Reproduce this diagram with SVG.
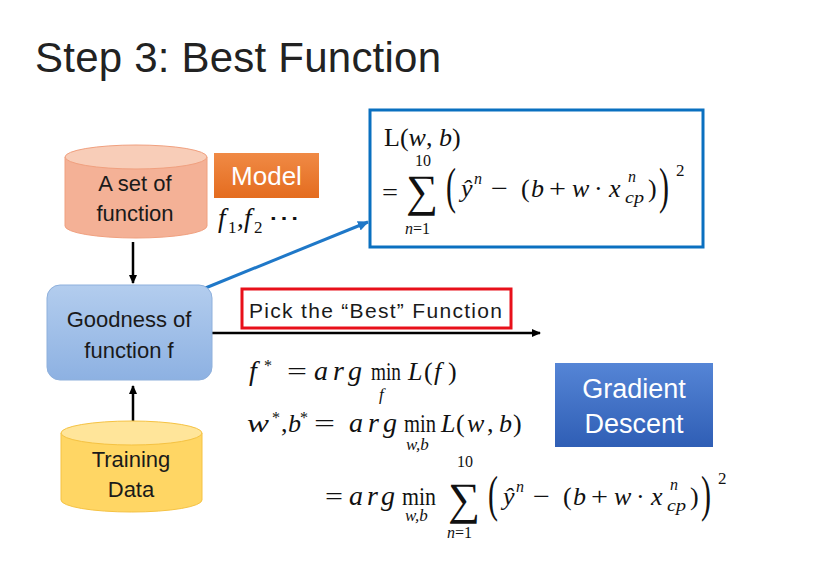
<svg xmlns="http://www.w3.org/2000/svg" width="825" height="564" viewBox="0 0 825 564">
<defs>
<style>
.t{font-family:"Liberation Sans","Open Sans",Arial,sans-serif;fill:#1a1a1a}
.w{fill:#fff}
.m{font-family:"Liberation Serif","DejaVu Serif",serif;fill:#111;font-size:26px}
.i{font-style:italic}
.s{font-size:16px}
.s17{font-size:17px}
.f27{font-size:27px}
.f28{font-size:28px}
.big{font-size:45px}
.bp{font-size:50px}
</style>
<linearGradient id="gBlue" x1="0" y1="0" x2="0" y2="1"><stop offset="0" stop-color="#b3cdee"/><stop offset="1" stop-color="#8db1e2"/></linearGradient>
<linearGradient id="gGD" x1="0" y1="0" x2="0" y2="1"><stop offset="0" stop-color="#5585d6"/><stop offset="1" stop-color="#2f5eb5"/></linearGradient>
<linearGradient id="gOr" x1="0" y1="0" x2="0" y2="1"><stop offset="0" stop-color="#f08a45"/><stop offset="1" stop-color="#e46c1f"/></linearGradient>
<marker id="ab" markerWidth="10" markerHeight="10" refX="8" refY="5" orient="auto" markerUnits="userSpaceOnUse"><path d="M0,1 L9,5 L0,9 Z" fill="#000"/></marker>
<marker id="abl" markerWidth="12" markerHeight="12" refX="10" refY="6" orient="auto" markerUnits="userSpaceOnUse"><path d="M0,1 L11,6 L0,11 Z" fill="#1f78c8"/></marker>
</defs>
<rect width="825" height="564" fill="#fff"/>
<text x="35" y="72" class="t" font-size="42" textLength="406" style="fill:#222">Step 3: Best Function</text>

<g id="connectors">
<line x1="133" y1="242" x2="133" y2="283" stroke="#000" stroke-width="2.5" marker-end="url(#ab)"/>
<line x1="133" y1="428" x2="133" y2="386" stroke="#000" stroke-width="2.5" marker-end="url(#ab)"/>
<line x1="203" y1="289" x2="368" y2="222" stroke="#1f78c8" stroke-width="3" marker-end="url(#abl)"/>
<line x1="212" y1="333" x2="540" y2="333" stroke="#000" stroke-width="2.5" marker-end="url(#ab)"/>
</g>

<g id="setfunc">
<path d="M65,157 L65,226 A71,12 0 0 0 207,226 L207,157 Z" fill="#f4b196" stroke="#f0a07f" stroke-width="1"/>
<ellipse cx="136" cy="157" rx="71" ry="12" fill="#f8cdb8" stroke="#f0a07f" stroke-width="1"/>
<text x="135" y="191" class="t" font-size="22" text-anchor="middle">A set of</text>
<text x="135" y="221" class="t" font-size="22" text-anchor="middle">function</text>
</g>

<g id="model">
<rect x="214" y="153" width="105" height="45" fill="url(#gOr)"/>
<text x="266.5" y="185" class="t w" font-size="26" text-anchor="middle">Model</text>
<text x="218" y="227" class="m i f27">f</text>
<text x="228" y="233" class="m s17">1</text>
<text x="237" y="227" class="m f27">,</text>
<text x="244" y="227" class="m i f27">f</text>
<text x="254" y="233" class="m s17">2</text>
<text x="268" y="227" class="m f27" textLength="32" lengthAdjust="spacingAndGlyphs">⋯</text>
</g>

<g id="goodness">
<rect x="47" y="285" width="165" height="95" rx="13" fill="url(#gBlue)" stroke="#8eb0dc" stroke-width="1"/>
<text x="129" y="327" class="t" font-size="22" text-anchor="middle">Goodness of</text>
<text x="129" y="358" class="t" font-size="22" text-anchor="middle">function f</text>
</g>

<g id="training">
<path d="M61,433 L61,500 A70.5,12 0 0 0 202,500 L202,433 Z" fill="#ffd664" stroke="#f5c242" stroke-width="1"/>
<ellipse cx="131.5" cy="433" rx="70.5" ry="12" fill="#ffe59a" stroke="#f5c242" stroke-width="1"/>
<text x="131" y="467" class="t" font-size="22" text-anchor="middle">Training</text>
<text x="131" y="497" class="t" font-size="22" text-anchor="middle">Data</text>
</g>

<g id="lossbox">
<rect x="370" y="110" width="333" height="137" fill="#fff" stroke="#0a70c0" stroke-width="3"/>
<text x="384" y="146" class="m">L(<tspan class="i">w</tspan>, <tspan class="i">b</tspan>)</text>
<text x="382" y="201" class="m" textLength="16" lengthAdjust="spacingAndGlyphs">=</text>
<text x="415" y="166" class="m s">10</text>
<text x="405" y="234" class="m s"><tspan class="i">n</tspan>=1</text>
<g transform="translate(-42,-308)">
<text x="448" y="514" class="m big">∑</text>
<text class="m bp" transform="translate(488,511) scale(0.6,1)">(</text>
<text x="503" y="505" class="m i">ŷ</text>
<text x="516" y="492" class="m s i">n</text>
<text x="533" y="505" class="m" textLength="17" lengthAdjust="spacingAndGlyphs">−</text>
<text x="563" y="505" class="m">(</text>
<text x="573" y="505" class="m i">b</text>
<text x="591" y="505" class="m" textLength="17" lengthAdjust="spacingAndGlyphs">+</text>
<text x="614" y="505" class="m i">w</text>
<text x="636" y="505" class="m">·</text>
<text x="651" y="505" class="m i">x</text>
<text x="670" y="490" class="m s i">n</text>
<text x="667" y="511" class="m s i" textLength="19" lengthAdjust="spacingAndGlyphs">cp</text>
<text x="690" y="505" class="m">)</text>
<text class="m bp" transform="translate(701,511) scale(0.6,1)">)</text>
<text x="718" y="484" class="m s17">2</text>
</g>
</g>

<g id="pick">
<rect x="242" y="289" width="269" height="39" fill="#fff" stroke="#e8101a" stroke-width="3"/>
<text x="249" y="318" class="t" font-size="21" textLength="253">Pick the “Best” Function</text>
</g>

<g id="gd">
<rect x="555" y="363" width="158" height="84" fill="url(#gGD)"/>
<text x="634" y="398" class="t w" font-size="27" text-anchor="middle">Gradient</text>
<text x="634" y="433" class="t w" font-size="27" text-anchor="middle">Descent</text>
</g>

<g id="formulas">
<text x="249" y="380" class="m i f28">f</text>
<text x="264" y="371" class="m s">*</text>
<text x="287" y="380" class="m" textLength="20" lengthAdjust="spacingAndGlyphs">=</text>
<text x="314" y="380" class="m i f28" textLength="48">arg</text>
<text x="371" y="380" class="m" textLength="30" lengthAdjust="spacingAndGlyphs">min</text>
<text x="379" y="400" class="m i s17">f</text>
<text x="408" y="380" class="m i">L</text>
<text x="424" y="380" class="m">(</text>
<text x="434" y="380" class="m i">f</text>
<text x="448" y="380" class="m">)</text>

<text x="247" y="432" class="m i" textLength="22" lengthAdjust="spacingAndGlyphs">w</text>
<text x="272" y="423" class="m s">*</text>
<text x="281" y="432" class="m">,</text>
<text x="288" y="432" class="m i">b</text>
<text x="300" y="423" class="m s">*</text>
<text x="314" y="432" class="m" textLength="21" lengthAdjust="spacingAndGlyphs">=</text>
<text x="349" y="432" class="m i f28" textLength="48">arg</text>
<text x="404" y="432" class="m" textLength="32" lengthAdjust="spacingAndGlyphs">min</text>
<text x="406" y="450" class="m i s17">w,b</text>
<text x="441" y="432" class="m i">L</text>
<text x="456" y="432" class="m">(</text>
<text x="467" y="432" class="m i">w</text>
<text x="487" y="432" class="m">,</text>
<text x="499" y="432" class="m i">b</text>
<text x="513" y="432" class="m">)</text>

<text x="325" y="505" class="m" textLength="18" lengthAdjust="spacingAndGlyphs">=</text>
<text x="349" y="505" class="m i f28" textLength="46">arg</text>
<text x="402" y="505" class="m" textLength="34" lengthAdjust="spacingAndGlyphs">min</text>
<text x="405" y="521" class="m i s17">w,b</text>
<text x="457" y="467" class="m s">10</text>
<text x="448" y="514" class="m big">∑</text>
<text x="447" y="538" class="m s"><tspan class="i">n</tspan>=1</text>
<text class="m bp" transform="translate(488,511) scale(0.6,1)">(</text>
<text x="503" y="505" class="m i">ŷ</text>
<text x="516" y="492" class="m s i">n</text>
<text x="533" y="505" class="m" textLength="17" lengthAdjust="spacingAndGlyphs">−</text>
<text x="563" y="505" class="m">(</text>
<text x="573" y="505" class="m i">b</text>
<text x="591" y="505" class="m" textLength="17" lengthAdjust="spacingAndGlyphs">+</text>
<text x="614" y="505" class="m i">w</text>
<text x="636" y="505" class="m">·</text>
<text x="651" y="505" class="m i">x</text>
<text x="670" y="490" class="m s i">n</text>
<text x="667" y="511" class="m s i" textLength="19" lengthAdjust="spacingAndGlyphs">cp</text>
<text x="690" y="505" class="m">)</text>
<text class="m bp" transform="translate(701,511) scale(0.6,1)">)</text>
<text x="718" y="484" class="m s17">2</text>
</g>
</svg>
